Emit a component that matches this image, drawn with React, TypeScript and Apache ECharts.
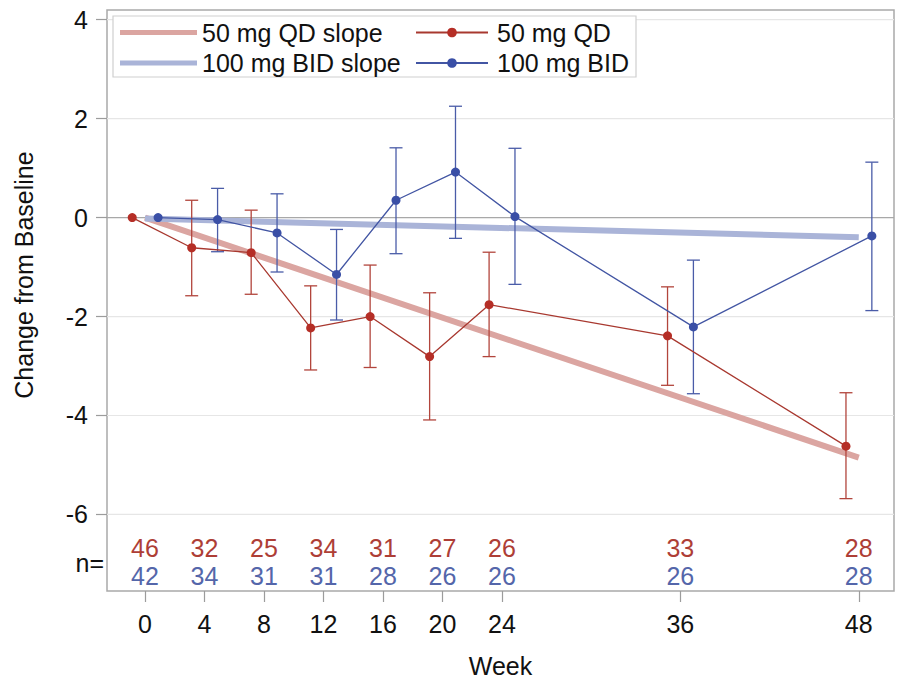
import React, { useEffect, useRef } from "react";
import * as echarts from "echarts";

// ---------- data ----------
const weeks = [0, 4, 8, 12, 16, 20, 24, 36, 48];
const xTickValues = [0, 4, 8, 12, 16, 20, 24, 36, 48];
const yTickValues = [-6, -4, -2, 0, 2, 4];

const qdMean = [0, -0.61, -0.71, -2.23, -2.0, -2.81, -1.76, -2.39, -4.62];
const qdLow = [null, -1.58, -1.55, -3.08, -3.03, -4.09, -2.81, -3.39, -5.68];
const qdHigh = [null, 0.35, 0.15, -1.38, -0.96, -1.52, -0.7, -1.4, -3.54];

const bidMean = [0, -0.04, -0.31, -1.15, 0.35, 0.92, 0.02, -2.21, -0.37];
const bidLow = [null, -0.69, -1.1, -2.07, -0.73, -0.42, -1.35, -3.56, -1.88];
const bidHigh = [null, 0.59, 0.48, -0.24, 1.41, 2.25, 1.4, -0.86, 1.12];

const slopeWeeks = [0, 48];
const qdSlope = [0, -4.85];
const bidSlope = [-0.02, -0.4];

const nQD = [46, 32, 25, 34, 31, 27, 26, 33, 28];
const nBID = [42, 34, 31, 31, 28, 26, 26, 26, 28];

const QD_NAME = "50 mg QD";
const BID_NAME = "100 mg BID";
const QD_SLOPE_NAME = "50 mg QD slope";
const BID_SLOPE_NAME = "100 mg BID slope";

// ---------- layout / style ----------
const FONT = "Liberation Sans, Arial, Helvetica, sans-serif";
const FS = 25;
const X_MIN = -2.556;
const X_MAX = 50.37;
const Y_MIN = -7.547;
const Y_MAX = 4.195;
const OFF_QD = -0.86;
const OFF_BID = 0.88;
const N_ROW_QD = -6.68;
const N_ROW_BID = -7.25;

const RED_LINE = "#A8382F";
const RED_MARK = "#B52E26";
const RED_ERR = "#B2453C";
const RED_TEXT = "#AE3E36";
const BLUE_LINE = "#4255A3";
const BLUE_MARK = "#3A4FA6";
const BLUE_ERR = "#4A5CA8";
const BLUE_TEXT = "#5466AA";
const PINK = "#DBA5A1";
const LIGHTBLUE = "#AAB4D8";

function errorSeries(low: (number | null)[], high: (number | null)[], off: number, color: string) {
  const data: number[][] = [];
  weeks.forEach((w, i) => {
    if (low[i] != null && high[i] != null) data.push([w + off, low[i] as number, high[i] as number]);
  });
  return {
    type: "custom",
    z: 3,
    silent: true,
    encode: { x: 0, y: [1, 2] },
    data,
    renderItem: (params: any, api: any) => {
      const lo = api.coord([api.value(0), api.value(1)]);
      const hi = api.coord([api.value(0), api.value(2)]);
      const hw = 6.5;
      const style = { stroke: color, lineWidth: 1.3, fill: null };
      return {
        type: "group",
        children: [
          { type: "line", shape: { x1: lo[0], y1: lo[1], x2: hi[0], y2: hi[1] }, style },
          { type: "line", shape: { x1: lo[0] - hw, y1: lo[1], x2: lo[0] + hw, y2: lo[1] }, style },
          { type: "line", shape: { x1: hi[0] - hw, y1: hi[1], x2: hi[0] + hw, y2: hi[1] }, style },
        ],
      };
    },
  };
}

export default function App() {
  const ref = useRef<HTMLDivElement>(null);

  useEffect(() => {
    document.body.style.margin = "0";
    const chart = echarts.init(ref.current!, null, { renderer: "svg" });

    const option: any = {
      animation: false,
      backgroundColor: "#ffffff",
      textStyle: { fontFamily: FONT },
      grid: {
        left: 107,
        right: 3,
        top: 10,
        bottom: 90,
        show: true,
        borderColor: "#a9a9a9",
        borderWidth: 1.5,
        backgroundColor: "transparent",
      },
      xAxis: {
        type: "value",
        min: X_MIN,
        max: X_MAX,
        axisLine: { show: false, onZero: false },
        axisTick: { show: true, length: 11, customValues: xTickValues, lineStyle: { color: "#9c9c9c", width: 1.2 } },
        axisLabel: { customValues: xTickValues, fontSize: FS, color: "#111", margin: 20, fontFamily: FONT },
        splitLine: { show: false },
        name: "Week",
        nameLocation: "middle",
        nameGap: 62,
        nameTextStyle: { fontSize: FS, color: "#111", fontFamily: FONT },
      },
      yAxis: {
        type: "value",
        min: Y_MIN,
        max: Y_MAX,
        axisLine: { show: false, onZero: false },
        axisTick: { show: true, length: 11, customValues: yTickValues, lineStyle: { color: "#9c9c9c", width: 1.2 } },
        axisLabel: { customValues: yTickValues, fontSize: FS, color: "#111", margin: 19, fontFamily: FONT },
        splitLine: { show: false },
      },
      legend: [
        {
          left: 120,
          top: 20,
          orient: "vertical",
          padding: 0,
          itemGap: 5.5,
          itemWidth: 77,
          itemHeight: 5,
          selectedMode: false,
          z: 6,
          data: [
            { name: QD_SLOPE_NAME, icon: "rect" },
            { name: BID_SLOPE_NAME, icon: "rect" },
          ],
          textStyle: { fontSize: FS, lineHeight: 24, color: "#111", fontFamily: FONT },
        },
        {
          left: 415,
          top: 20,
          orient: "vertical",
          padding: 0,
          itemGap: 5.5,
          itemWidth: 72,
          itemHeight: 12,
          selectedMode: false,
          z: 6,
          data: [QD_NAME, BID_NAME],
          textStyle: { fontSize: FS, lineHeight: 24, color: "#111", fontFamily: FONT, padding: [0, 0, 0, 4] },
        },
      ],
      graphic: [
        {
          type: "rect",
          z: 5,
          shape: { x: 113, y: 16, width: 523, height: 61 },
          style: { fill: "#ffffff", stroke: "#cfcfcf", lineWidth: 1.2 },
        },
        {
          type: "text",
          x: 24,
          y: 275,
          rotation: Math.PI / 2,
          style: {
            text: "Change from Baseline",
            font: `${FS}px ${FONT}`,
            fill: "#111",
            align: "center",
            verticalAlign: "middle",
          },
        },
        {
          type: "text",
          x: 104,
          y: 563,
          style: {
            text: "n=",
            font: `${FS}px ${FONT}`,
            fill: "#111",
            align: "right",
            verticalAlign: "middle",
          },
        },
      ],
      series: [
        {
          type: "custom",
          z: 1,
          silent: true,
          encode: { x: 0, y: 1 },
          data: yTickValues.map((v) => [0, v]),
          renderItem: (params: any, api: any) => {
            const cs = params.coordSys;
            const v = api.value(1);
            const y = api.coord([0, v])[1];
            return {
              type: "line",
              shape: { x1: cs.x, y1: y, x2: cs.x + cs.width, y2: y },
              style: { stroke: v === 0 ? "#a8a8a8" : "#e6e6e6", lineWidth: 1.2 },
            };
          },
        },
        {
          name: QD_SLOPE_NAME,
          type: "line",
          z: 2,
          symbol: "none",
          silent: true,
          data: slopeWeeks.map((w, i) => [w, qdSlope[i]]),
          lineStyle: { color: PINK, width: 6, cap: "butt" },
          itemStyle: { color: PINK },
        },
        {
          name: BID_SLOPE_NAME,
          type: "line",
          z: 2,
          symbol: "none",
          silent: true,
          data: slopeWeeks.map((w, i) => [w, bidSlope[i]]),
          lineStyle: { color: LIGHTBLUE, width: 6, cap: "butt" },
          itemStyle: { color: LIGHTBLUE },
        },
        errorSeries(qdLow, qdHigh, OFF_QD, RED_ERR),
        errorSeries(bidLow, bidHigh, OFF_BID, BLUE_ERR),
        {
          name: QD_NAME,
          type: "line",
          z: 4,
          symbol: "circle",
          symbolSize: 9,
          data: weeks.map((w, i) => [w + OFF_QD, qdMean[i]]),
          lineStyle: { color: RED_LINE, width: 1.3 },
          itemStyle: { color: RED_MARK },
        },
        {
          name: BID_NAME,
          type: "line",
          z: 4,
          symbol: "circle",
          symbolSize: 9,
          data: weeks.map((w, i) => [w + OFF_BID, bidMean[i]]),
          lineStyle: { color: BLUE_LINE, width: 1.3 },
          itemStyle: { color: BLUE_MARK },
        },
        {
          type: "custom",
          z: 4,
          silent: true,
          encode: { x: 0, y: 1 },
          data: weeks.map((w, i) => [w, N_ROW_QD, nQD[i], nBID[i]]),
          renderItem: (params: any, api: any) => {
            const w = api.value(0);
            const p1 = api.coord([w, N_ROW_QD]);
            const p2 = api.coord([w, N_ROW_BID]);
            return {
              type: "group",
              children: [
                {
                  type: "text",
                  x: p1[0],
                  y: p1[1],
                  style: {
                    text: String(api.value(2)),
                    fill: RED_TEXT,
                    font: `${FS}px ${FONT}`,
                    align: "center",
                    verticalAlign: "middle",
                  },
                },
                {
                  type: "text",
                  x: p2[0],
                  y: p2[1],
                  style: {
                    text: String(api.value(3)),
                    fill: BLUE_TEXT,
                    font: `${FS}px ${FONT}`,
                    align: "center",
                    verticalAlign: "middle",
                  },
                },
              ],
            };
          },
        },
      ],
    };

    chart.setOption(option);
    return () => chart.dispose();
  }, []);

  return <div ref={ref} style={{ width: 897, height: 683 }} />;
}
